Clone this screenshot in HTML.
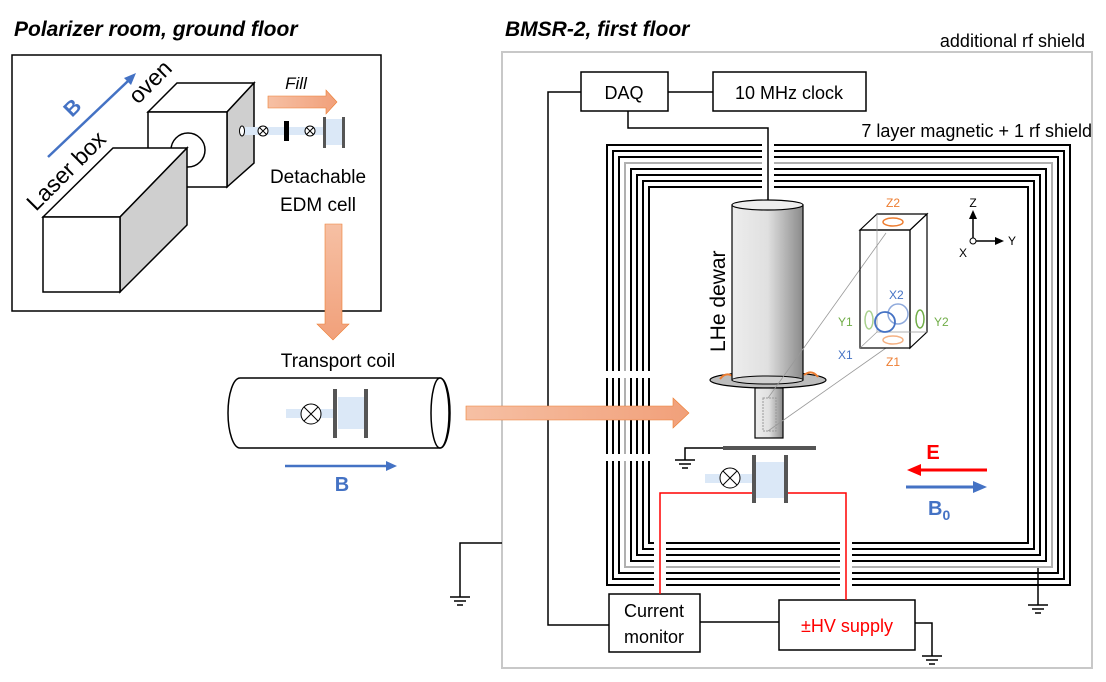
<!DOCTYPE html>
<html><head><meta charset="utf-8"><style>
html,body{margin:0;padding:0;background:#fff}
svg{display:block}
text{font-family:"Liberation Sans",sans-serif}
</style></head><body>
<svg width="1106" height="682" viewBox="0 0 1106 682" xmlns="http://www.w3.org/2000/svg">
<defs>
<linearGradient id="cyl" x1="0" x2="1"><stop offset="0" stop-color="#ededed"/><stop offset="0.5" stop-color="#e0e0e0"/><stop offset="1" stop-color="#8a8a8a"/></linearGradient>
<linearGradient id="or" x1="0" x2="1"><stop offset="0" stop-color="#f6c0a4"/><stop offset="1" stop-color="#f1a07a"/></linearGradient>
<linearGradient id="orv" x1="0" x2="0" y1="0" y2="1"><stop offset="0" stop-color="#f6c0a4"/><stop offset="1" stop-color="#f1a07a"/></linearGradient>
</defs>
<text x="14" y="36" font-size="21" font-weight="bold" font-style="italic">Polarizer room, ground floor</text>
<text x="505" y="36" font-size="21" font-weight="bold" font-style="italic">BMSR-2, first floor</text>
<rect x="12" y="55" width="369" height="256" fill="none" stroke="#000" stroke-width="1.5"/>
<polygon points="148,112 177,83 254,83 227,112" fill="#fff" stroke="#000" stroke-width="1.5"/>
<polygon points="227,112 254,83 254,163 227,187" fill="#cfcfcf" stroke="#000" stroke-width="1.5"/>
<rect x="148" y="112" width="79" height="75" fill="#fff" stroke="#000" stroke-width="1.5"/>
<circle cx="188" cy="150" r="17" fill="#fff" stroke="#000" stroke-width="1.5"/>
<ellipse cx="242" cy="131" rx="2.5" ry="5" fill="#fff" stroke="#000"/>
<polygon points="43,217 113,148 187,148 120,217" fill="#fff" stroke="#000" stroke-width="1.5"/>
<polygon points="120,217 187,148 187,225 120,292" fill="#cfcfcf" stroke="#000" stroke-width="1.5"/>
<rect x="43" y="217" width="77" height="75" fill="#fff" stroke="#000" stroke-width="1.5"/>
<text x="0" y="0" font-size="23" transform="translate(36,212) rotate(-45)">Laser box</text>
<text x="0" y="0" font-size="23" transform="translate(138,105) rotate(-45)">oven</text>
<line x1="48" y1="157" x2="128" y2="81" stroke="#4472c4" stroke-width="2.5"/>
<polygon points="136,73 124,78 131,85" fill="#4472c4"/>
<text x="0" y="0" font-size="21" font-weight="bold" fill="#4472c4" transform="translate(72,118) rotate(-45)">B</text>
<rect x="245" y="127" width="95" height="8" fill="#dbe8f7"/>
<rect x="325" y="119" width="18" height="26" fill="#dbe8f7"/>
<circle cx="263" cy="131" r="5" fill="#fff" stroke="#000"/><path d="M259.5,127.5l7,7M266.5,127.5l-7,7" stroke="#000"/>
<rect x="284" y="121" width="5" height="20" fill="#000"/>
<circle cx="310" cy="131" r="5" fill="#fff" stroke="#000"/><path d="M306.5,127.5l7,7M313.5,127.5l-7,7" stroke="#000"/>
<rect x="323" y="117" width="3" height="31" fill="#555"/><rect x="342" y="117" width="3" height="31" fill="#555"/>
<text x="296" y="89" font-size="17" font-style="italic" text-anchor="middle">Fill</text>
<polygon points="268,96 326,96 326,90 337,102 326,114 326,108 268,108" fill="url(#or)" stroke="#ed7d31" stroke-width="0.6"/>
<text x="318" y="183" font-size="19" text-anchor="middle">Detachable</text>
<text x="318" y="211" font-size="19" text-anchor="middle">EDM cell</text>
<polygon points="325,224 342,224 342,324 349,324 333,340 317,324 325,324" fill="url(#orv)" stroke="#ed7d31" stroke-width="0.6"/>
<text x="338" y="367" font-size="19" text-anchor="middle">Transport coil</text>
<path d="M240,378 L440,378 A10,35 0 0 1 440,448 L240,448 A12,35 0 0 1 240,378Z" fill="#fff" stroke="#000" stroke-width="1.5"/>
<ellipse cx="440" cy="413" rx="9" ry="35" fill="#fff" stroke="#000" stroke-width="1.5"/>
<rect x="286" y="409" width="50" height="9" fill="#dbe8f7"/>
<rect x="338" y="397" width="28" height="32" fill="#dbe8f7"/>
<circle cx="311" cy="414" r="10" fill="#fff" stroke="#000"/><path d="M304,407l14,14M318,407l-14,14" stroke="#000"/>
<rect x="333" y="389" width="4" height="49" fill="#555"/><rect x="364" y="389" width="4" height="49" fill="#555"/>
<line x1="285" y1="466" x2="388" y2="466" stroke="#4472c4" stroke-width="2.5"/>
<polygon points="397,466 386,461 386,471" fill="#4472c4"/>
<text x="342" y="491" font-size="20" font-weight="bold" fill="#4472c4" text-anchor="middle">B</text>
<rect x="502" y="52" width="590" height="616" fill="none" stroke="#c8c8c8" stroke-width="2"/>
<text x="1085" y="47" font-size="18" text-anchor="end">additional rf shield</text>
<g fill="none" stroke-width="2">
<rect x="607" y="145" width="463" height="440" stroke="#000"/>
<rect x="613" y="151" width="451" height="428" stroke="#000"/>
<rect x="619" y="157" width="439" height="416" stroke="#000"/>
<rect x="625" y="163" width="427" height="404" stroke="#b0b0b0"/>
<rect x="631" y="169" width="415" height="392" stroke="#000"/>
<rect x="637" y="175" width="403" height="380" stroke="#000"/>
<rect x="643" y="181" width="391" height="368" stroke="#000"/>
<rect x="649" y="187" width="379" height="356" stroke="#000"/>
</g>
<rect x="762" y="140" width="12" height="50" fill="#fff"/>
<rect x="600" y="371" width="55" height="7" fill="#fff"/>
<rect x="600" y="454" width="55" height="7" fill="#fff"/>
<rect x="654" y="538" width="12" height="52" fill="#fff"/>
<rect x="840" y="538" width="12" height="52" fill="#fff"/>
<text x="1092" y="137" font-size="18" text-anchor="end">7 layer magnetic + 1 rf shield</text>
<rect x="581" y="72" width="87" height="39" fill="#fff" stroke="#000" stroke-width="1.5"/>
<text x="624" y="99" font-size="18" text-anchor="middle">DAQ</text>
<rect x="713" y="72" width="153" height="39" fill="#fff" stroke="#000" stroke-width="1.5"/>
<text x="789" y="99" font-size="18" text-anchor="middle">10 MHz clock</text>
<g fill="none" stroke="#000" stroke-width="1.5">
<line x1="668" y1="92" x2="713" y2="92"/>
<polyline points="581,92 548,92 548,625 609,625"/>
<polyline points="628,111 628,128 768,128 768,203"/>
<line x1="700" y1="622" x2="779" y2="622"/>
<polyline points="915,623 932,623 932,656"/>
<polyline points="502,543 460,543 460,597"/>
<line x1="1038" y1="568" x2="1038" y2="605"/>
<polyline points="723,448 685,448 685,460"/>
</g>
<g stroke="#000" stroke-width="1.5">
<line x1="450" y1="597" x2="470" y2="597"/><line x1="454" y1="601" x2="466" y2="601"/><line x1="457" y1="605" x2="463" y2="605"/>
<line x1="922" y1="656" x2="942" y2="656"/><line x1="926" y1="660" x2="938" y2="660"/><line x1="929" y1="664" x2="935" y2="664"/>
<line x1="1028" y1="605" x2="1048" y2="605"/><line x1="1032" y1="609" x2="1044" y2="609"/><line x1="1035" y1="613" x2="1041" y2="613"/>
<line x1="675" y1="460" x2="695" y2="460"/><line x1="679" y1="464" x2="691" y2="464"/><line x1="682" y1="468" x2="688" y2="468"/>
</g>
<rect x="609" y="594" width="91" height="58" fill="#fff" stroke="#000" stroke-width="1.5"/>
<text x="654" y="617" font-size="18" text-anchor="middle">Current</text>
<text x="654" y="643" font-size="18" text-anchor="middle">monitor</text>
<rect x="779" y="600" width="136" height="50" fill="#fff" stroke="#000" stroke-width="1.5"/>
<text x="847" y="632" font-size="18" fill="#ff0000" text-anchor="middle">±HV supply</text>
<polygon points="466,406 673,406 673,398 689,413 673,428 673,420 466,420" fill="url(#or)" stroke="#ed7d31" stroke-width="0.6"/>
<ellipse cx="768" cy="380" rx="58" ry="8" fill="#bdbdbd" stroke="#000" stroke-width="1.2"/>
<path d="M720,379 q6,-8 14,-2 M804,375 q8,-6 14,2" stroke="#ed7d31" stroke-width="2" fill="none"/>
<rect x="732" y="205" width="71" height="175" fill="url(#cyl)" stroke="#000" stroke-width="1.2"/>
<ellipse cx="767.5" cy="380" rx="35.5" ry="4" fill="#d0d0d0" stroke="#000" stroke-width="1"/>
<ellipse cx="767.5" cy="205" rx="35.5" ry="5" fill="#eee" stroke="#000" stroke-width="1.2"/>
<rect x="755" y="388" width="28" height="50" fill="url(#cyl)" stroke="#000" stroke-width="1.2"/>
<rect x="763" y="398" width="13" height="33" fill="none" stroke="#999" stroke-dasharray="2,1"/>
<line x1="768" y1="398" x2="886" y2="233" stroke="#999" stroke-width="0.8"/>
<line x1="768" y1="431" x2="886" y2="348" stroke="#999" stroke-width="0.8"/>
<text x="0" y="0" font-size="21" transform="translate(725,352) rotate(-90)">LHe dewar</text>
<rect x="723" y="446" width="93" height="4" fill="#555"/>
<rect x="705" y="474" width="50" height="9" fill="#dbe8f7"/>
<rect x="756" y="462" width="29" height="36" fill="#dbe8f7"/>
<circle cx="730" cy="478" r="10" fill="#fff" stroke="#000"/><path d="M723,471l14,14M737,471l-14,14" stroke="#000"/>
<polyline points="753,493 660,493 660,594" fill="none" stroke="#ff0000" stroke-width="1.5"/>
<polyline points="787,493 846,493 846,600" fill="none" stroke="#ff0000" stroke-width="1.5"/>
<rect x="752" y="455" width="4" height="48" fill="#555"/><rect x="784" y="455" width="4" height="48" fill="#555"/>
<text x="933" y="459" font-size="20" font-weight="bold" fill="#ff0000" text-anchor="middle">E</text>
<line x1="920" y1="470" x2="987" y2="470" stroke="#ff0000" stroke-width="3"/>
<polygon points="907,470 921,464 921,476" fill="#ff0000"/>
<line x1="906" y1="487" x2="974" y2="487" stroke="#4472c4" stroke-width="3"/>
<polygon points="987,487 973,481 973,493" fill="#4472c4"/>
<text x="928" y="515" font-size="20" font-weight="bold" fill="#4472c4">B<tspan font-size="14" dy="5">0</tspan></text>
<g fill="none" stroke="#000" stroke-width="1.2">
<polygon points="860,230 877,214 927,214 910,230"/>
<polygon points="910,230 927,214 927,332 910,348"/>
<rect x="860" y="230" width="50" height="118"/>
</g>
<g fill="none" stroke="#999" stroke-width="0.7"><line x1="877" y1="214" x2="877" y2="332"/><line x1="877" y1="332" x2="927" y2="332"/><line x1="860" y1="348" x2="877" y2="332"/></g>
<ellipse cx="893" cy="222" rx="10" ry="4" fill="none" stroke="#ed7d31" stroke-width="1.5"/>
<ellipse cx="893" cy="340" rx="10" ry="4" fill="none" stroke="#f4b183" stroke-width="1.5"/>
<ellipse cx="869" cy="320" rx="4" ry="9" fill="none" stroke="#a9d18e" stroke-width="1.5"/>
<ellipse cx="920" cy="319" rx="4" ry="9" fill="none" stroke="#70ad47" stroke-width="1.5"/>
<circle cx="898" cy="314" r="10" fill="none" stroke="#8faadc" stroke-width="1.5"/>
<circle cx="885" cy="322" r="10" fill="none" stroke="#4472c4" stroke-width="1.8"/>
<g font-size="12">
<text x="893" y="207" fill="#ed7d31" text-anchor="middle">Z2</text>
<text x="893" y="366" fill="#ed7d31" text-anchor="middle">Z1</text>
<text x="838" y="326" fill="#70ad47">Y1</text>
<text x="934" y="326" fill="#70ad47">Y2</text>
<text x="889" y="299" fill="#4472c4">X2</text>
<text x="838" y="359" fill="#4472c4">X1</text>
</g>
<line x1="973" y1="241" x2="973" y2="218" stroke="#000" stroke-width="1.5"/>
<polygon points="973,210 969,219 977,219" fill="#000"/>
<line x1="973" y1="241" x2="996" y2="241" stroke="#000" stroke-width="1.5"/>
<polygon points="1004,241 995,237 995,245" fill="#000"/>
<circle cx="973" cy="241" r="3" fill="#fff" stroke="#000"/>
<text x="973" y="207" font-size="12" text-anchor="middle">Z</text>
<text x="1008" y="245" font-size="12">Y</text>
<text x="959" y="257" font-size="12">X</text>
</svg>
</body></html>
